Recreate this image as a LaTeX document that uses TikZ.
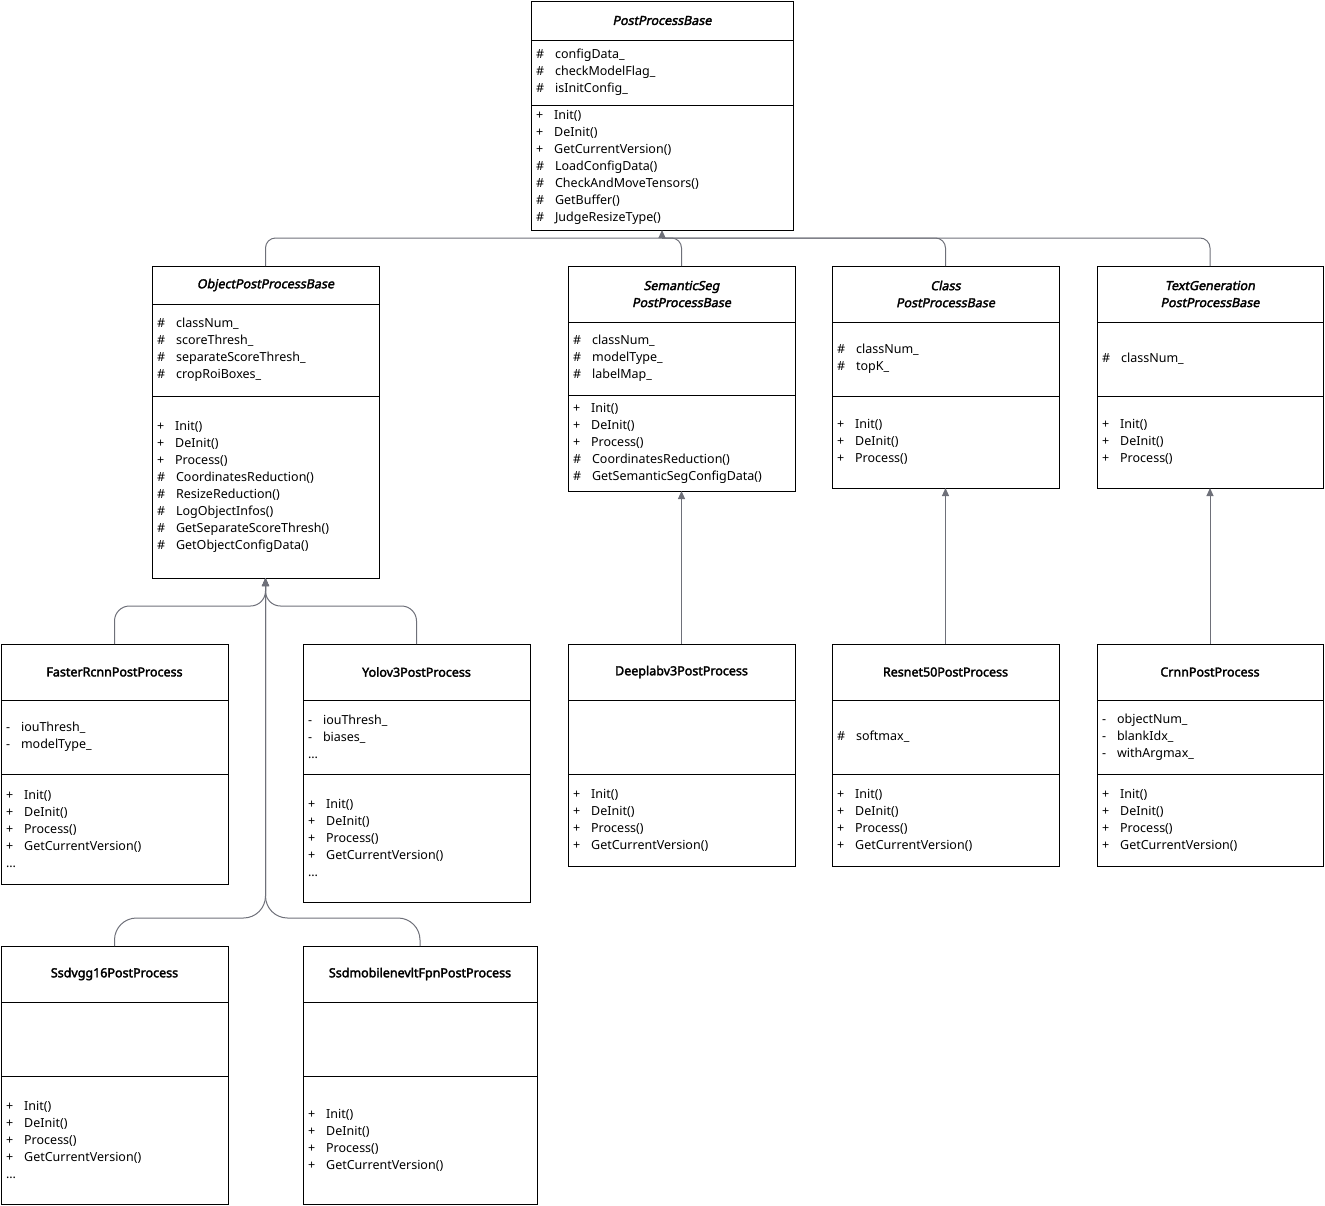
\documentclass[tikz,border=0pt]{standalone}
\usepackage{fontspec}
\setmainfont{Noto Sans}[AutoFakeBold=2.5]
\newfontfamily\abstractfont{Noto Sans}[FakeBold=2.5, FakeSlant=0.2]
\usetikzlibrary{positioning,arrows.meta}
\definecolor{edgegray}{HTML}{6E7079}
\newcommand{\umlsize}{\fontsize{12.5}{17}\selectfont}
\newcommand{\mb}[2]{#1\hspace{11pt}#2}
\tikzset{
  box/.style={draw=black, fill=white, line width=1pt, outer sep=0pt, inner ysep=0pt, inner xsep=5pt},
  classname/.style={box, align=center, font=\umlsize\bfseries},
  abstractname/.style={box, align=center, font=\umlsize\abstractfont},
  members/.style={box, align=left, font=\umlsize},
  inherit/.style={draw=edgegray, line width=1pt, -{Triangle[length=8pt,width=7pt]}},
  branch/.style={draw=edgegray, line width=1pt, rounded corners=10pt}
}

\begin{document}
\begin{tikzpicture}[x=1pt,y=-1pt]
\useasboundingbox (0,0) rectangle (1325,1205);

% base class
\begin{scope}[every node/.append style={minimum width=262pt, text width=252pt}]
\node[abstractname, minimum height=39pt, anchor=north west] (ppb) at (531,1) {PostProcessBase};
\node[members, minimum height=65pt, below=0pt of ppb] (ppb-a)
  {\mb{\#}{configData\_}\\ \mb{\#}{checkModelFlag\_}\\ \mb{\#}{isInitConfig\_}};
\node[members, minimum height=125pt, below=0pt of ppb-a] (ppb-m)
  {\mb{+}{Init()}\\ \mb{+}{DeInit()}\\ \mb{+}{GetCurrentVersion()}\\ \mb{\#}{LoadConfigData()}\\
   \mb{\#}{CheckAndMoveTensors()}\\ \mb{\#}{GetBuffer()}\\ \mb{\#}{JudgeResizeType()}};
\end{scope}

% second level
\begin{scope}[every node/.append style={minimum width=227pt, text width=217pt}]
\node[abstractname, minimum height=38pt, anchor=north west] (oppb) at (152,266) {ObjectPostProcessBase};
\node[members, minimum height=92pt, below=0pt of oppb] (oppb-a)
  {\mb{\#}{classNum\_}\\ \mb{\#}{scoreThresh\_}\\ \mb{\#}{separateScoreThresh\_}\\ \mb{\#}{cropRoiBoxes\_}};
\node[members, minimum height=182pt, below=0pt of oppb-a] (oppb-m)
  {\mb{+}{Init()}\\ \mb{+}{DeInit()}\\ \mb{+}{Process()}\\ \mb{\#}{CoordinatesReduction()}\\
   \mb{\#}{ResizeReduction()}\\ \mb{\#}{LogObjectInfos()}\\ \mb{\#}{GetSeparateScoreThresh()}\\
   \mb{\#}{GetObjectConfigData()}};
\end{scope}

\begin{scope}[every node/.append style={minimum width=227pt, text width=217pt}]
\node[abstractname, minimum height=56pt, anchor=north west] (sspb) at (568,266) {SemanticSeg\\PostProcessBase};
\node[members, minimum height=73pt, below=0pt of sspb] (sspb-a)
  {\mb{\#}{classNum\_}\\ \mb{\#}{modelType\_}\\ \mb{\#}{labelMap\_}};
\node[members, minimum height=96pt, below=0pt of sspb-a] (sspb-m)
  {\mb{+}{Init()}\\ \mb{+}{DeInit()}\\ \mb{+}{Process()}\\ \mb{\#}{CoordinatesReduction()}\\
   \mb{\#}{GetSemanticSegConfigData()}};
\end{scope}

\begin{scope}[every node/.append style={minimum width=227pt, text width=217pt}]
\node[abstractname, minimum height=56pt, anchor=north west] (cpb) at (832,266) {Class\\PostProcessBase};
\node[members, minimum height=74pt, below=0pt of cpb] (cpb-a)
  {\mb{\#}{classNum\_}\\ \mb{\#}{topK\_}};
\node[members, minimum height=92pt, below=0pt of cpb-a] (cpb-m)
  {\mb{+}{Init()}\\ \mb{+}{DeInit()}\\ \mb{+}{Process()}};
\end{scope}

\begin{scope}[every node/.append style={minimum width=226pt, text width=216pt}]
\node[abstractname, minimum height=56pt, anchor=north west] (tgpb) at (1097,266) {TextGeneration\\PostProcessBase};
\node[members, minimum height=74pt, below=0pt of tgpb] (tgpb-a)
  {\mb{\#}{classNum\_}};
\node[members, minimum height=92pt, below=0pt of tgpb-a] (tgpb-m)
  {\mb{+}{Init()}\\ \mb{+}{DeInit()}\\ \mb{+}{Process()}};
\end{scope}

% concrete classes
\begin{scope}[every node/.append style={minimum width=227pt, text width=217pt}]
\node[classname, minimum height=56pt, anchor=north west] (frcnn) at (1,644) {FasterRcnnPostProcess};
\node[members, minimum height=74pt, below=0pt of frcnn] (frcnn-a)
  {\mb{-}{iouThresh\_}\\ \mb{-}{modelType\_}};
\node[members, minimum height=110pt, below=0pt of frcnn-a] (frcnn-m)
  {\mb{+}{Init()}\\ \mb{+}{DeInit()}\\ \mb{+}{Process()}\\ \mb{+}{GetCurrentVersion()}\\ ...};

\node[classname, minimum height=56pt, anchor=north west] (yolo) at (303,644) {Yolov3PostProcess};
\node[members, minimum height=74pt, below=0pt of yolo] (yolo-a)
  {\mb{-}{iouThresh\_}\\ \mb{-}{biases\_}\\ ...};
\node[members, minimum height=128pt, below=0pt of yolo-a] (yolo-m)
  {\mb{+}{Init()}\\ \mb{+}{DeInit()}\\ \mb{+}{Process()}\\ \mb{+}{GetCurrentVersion()}\\ ...};

\node[classname, minimum height=56pt, anchor=north west] (deeplab) at (568,644) {Deeplabv3PostProcess};
\node[members, minimum height=74pt, below=0pt of deeplab] (deeplab-a) {};
\node[members, minimum height=92pt, below=0pt of deeplab-a] (deeplab-m)
  {\mb{+}{Init()}\\ \mb{+}{DeInit()}\\ \mb{+}{Process()}\\ \mb{+}{GetCurrentVersion()}};

\node[classname, minimum height=56pt, anchor=north west] (resnet) at (832,644) {Resnet50PostProcess};
\node[members, minimum height=74pt, below=0pt of resnet] (resnet-a)
  {\mb{\#}{softmax\_}};
\node[members, minimum height=92pt, below=0pt of resnet-a] (resnet-m)
  {\mb{+}{Init()}\\ \mb{+}{DeInit()}\\ \mb{+}{Process()}\\ \mb{+}{GetCurrentVersion()}};

\node[classname, minimum height=56pt, anchor=north west] (ssdvgg) at (1,946) {Ssdvgg16PostProcess};
\node[members, minimum height=74pt, below=0pt of ssdvgg] (ssdvgg-a) {};
\node[members, minimum height=128pt, below=0pt of ssdvgg-a] (ssdvgg-m)
  {\mb{+}{Init()}\\ \mb{+}{DeInit()}\\ \mb{+}{Process()}\\ \mb{+}{GetCurrentVersion()}\\ ...};
\end{scope}

\begin{scope}[every node/.append style={minimum width=226pt, text width=216pt}]
\node[classname, minimum height=56pt, anchor=north west] (crnn) at (1097,644) {CrnnPostProcess};
\node[members, minimum height=74pt, below=0pt of crnn] (crnn-a)
  {\mb{-}{objectNum\_}\\ \mb{-}{blankIdx\_}\\ \mb{-}{withArgmax\_}};
\node[members, minimum height=92pt, below=0pt of crnn-a] (crnn-m)
  {\mb{+}{Init()}\\ \mb{+}{DeInit()}\\ \mb{+}{Process()}\\ \mb{+}{GetCurrentVersion()}};
\end{scope}

\begin{scope}[every node/.append style={minimum width=234pt, text width=224pt}]
\node[classname, minimum height=56pt, anchor=north west] (ssdmob) at (303,946) {SsdmobilenevltFpnPostProcess};
\node[members, minimum height=74pt, below=0pt of ssdmob] (ssdmob-a) {};
\node[members, minimum height=128pt, below=0pt of ssdmob-a] (ssdmob-m)
  {\mb{+}{Init()}\\ \mb{+}{DeInit()}\\ \mb{+}{Process()}\\ \mb{+}{GetCurrentVersion()}};
\end{scope}

% inheritance
\coordinate (ppb-j) at (662,238);
\draw[branch] (oppb.north) |- (ppb-j);
\draw[branch] (sspb.north) |- (ppb-j);
\draw[branch] (cpb.north) |- (ppb-j);
\draw[branch] (tgpb.north) |- (ppb-j);
\draw[inherit] (ppb-j) -- (ppb-m.south);

\coordinate (oppb-j) at (265.5,606);
\coordinate (oppb-k) at (265.5,918);
\draw[inherit, rounded corners=15pt] (frcnn.north) |- (oppb-j) -- (oppb-m.south);
\draw[inherit, rounded corners=15pt] (yolo.north) |- (oppb-j) -- (oppb-m.south);
\draw[inherit, rounded corners=22pt] (ssdvgg.north) |- (oppb-k) -- (oppb-m.south);
\draw[inherit, rounded corners=22pt] (ssdmob.north) |- (oppb-k) -- (oppb-m.south);

\draw[inherit] (deeplab.north) -- (sspb-m.south);
\draw[inherit] (resnet.north) -- (cpb-m.south);
\draw[inherit] (crnn.north) -- (tgpb-m.south);
\end{tikzpicture}
\end{document}
